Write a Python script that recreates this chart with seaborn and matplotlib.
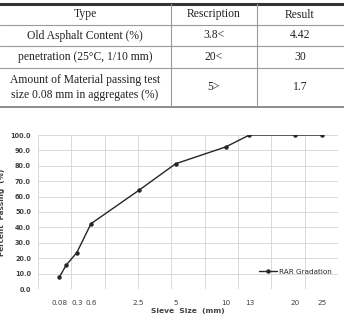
# Tabela de propriedades + curva granulométrica do RAP
import numpy as np
import pandas as pd
import matplotlib
matplotlib.use("Agg")
import matplotlib.pyplot as plt
import seaborn as sns

# Dados da tabela
col_names = ["Type", "Rescription", "Result"]
row_types = ["Old Asphalt Content (%)",
             "penetration (25°C, 1/10 mm)",
             "Amount of Material passing test\nsize 0.08 mm in aggregates (%)"]
row_desc = ["3.8<", "20<", "5>"]
row_result = ["4.42", "30", "1.7"]

# Dados da curva
sieve_mm = [0.08, 0.15, 0.3, 0.6, 2.5, 5, 10, 13, 20, 25]
passing = [7.8, 15.7, 23.6, 42.4, 64.0, 81.3, 92.3, 100.0, 100.0, 100.0]
sieve_labels = ["0.08", "0.3", "0.6", "2.5", "5", "10", "13", "20", "25"]
sieve_label_pos = [0.08, 0.3, 0.6, 2.5, 5, 10, 13, 20, 25]
series_name = "RAR Gradation"

sns.set_theme(style="white")
plt.rcParams['font.family'] = ['DejaVu Sans']

W, H = 344, 317
fig = plt.figure(figsize=(W / 100, H / 100), dpi=100)

# --- tabela ---
tab = fig.add_axes([0, 1 - 110 / H, 1, 110 / H])
tab.set_xlim(0, W)
tab.set_ylim(110, 0)
tab.axis("off")
serif = ["Liberation Serif", "DejaVu Serif"]
tab.axhline(4, color="#333333", lw=2.2)
for yy in [25, 46, 68]:
    tab.axhline(yy, color="#9a9a9a", lw=0.8)
tab.axhline(107, color="#8a8a8a", lw=1.4)
for xx in [171, 257]:
    tab.plot([xx, xx], [4, 107], color="#9a9a9a", lw=0.8)
col_x = [85, 214, 300]
for cx, name in zip(col_x, col_names):
    tab.text(cx, 14.5, name, ha="center", va="center", fontsize=8.4,
             family=serif, color="#222222")
row_y = [35.5, 57, 87.5]
for ry, t, d, r in zip(row_y, row_types, row_desc, row_result):
    tab.text(col_x[0], ry, t, ha="center", va="center", fontsize=8.4,
             family=serif, color="#222222", linespacing=1.35)
    tab.text(col_x[1], ry, d, ha="center", va="center", fontsize=8.4,
             family=serif, color="#222222")
    tab.text(col_x[2], ry, r, ha="center", va="center", fontsize=8.4,
             family=serif, color="#222222")

# --- gráfico ---
p = 0.45
fwd = lambda x: np.power(np.clip(x, 0, None), p)
inv = lambda t: np.power(np.clip(t, 0, None), 1 / p)

ax = fig.add_axes([38 / W, (H - 289) / H, 300 / W, 154 / H])
ax.set_xscale("function", functions=(fwd, inv))

df = pd.DataFrame({"sieve": sieve_mm, "passing": passing})
sns.lineplot(data=df, x="sieve", y="passing", ax=ax, color="#262626",
             lw=1.0, marker="o", markersize=3.2, markeredgewidth=0,
             label=series_name)

ax.set_xlim(0, inv(4.5))
ax.set_ylim(0, 100)
ax.set_xticks([inv(0.5 * k) for k in range(10)])
ax.set_xticklabels([])
ax.set_xticks(sieve_label_pos, minor=True)
ax.set_xticklabels(sieve_labels, minor=True, fontsize=5.2, color="#404040")
ax.tick_params(axis="x", which="both", length=0, pad=8)
ax.set_yticks(np.arange(0, 101, 10))
ax.set_yticklabels([f"{v:.1f}" for v in np.arange(0, 101, 10)],
                   fontsize=4.7, fontweight="bold", color="#404040")
ax.tick_params(axis="y", length=0, pad=5)
ax.grid(True, which="major", color="#d9d9d9", lw=0.7)
for s in ax.spines.values():
    s.set_visible(False)

ax.set_xlabel("Sieve  Size  (mm)", fontsize=5.4, fontweight="bold",
              color="#404040", labelpad=1)
ax.set_ylabel("Percent  Passing  (%)", fontsize=5.2, fontweight="bold",
              color="#404040", labelpad=4)

ax.legend(loc="lower right", frameon=False, fontsize=5.2, handlelength=2.6,
          handletextpad=0.2, bbox_to_anchor=(1.0, 0.05))

fig.savefig("out.png", dpi=100)
